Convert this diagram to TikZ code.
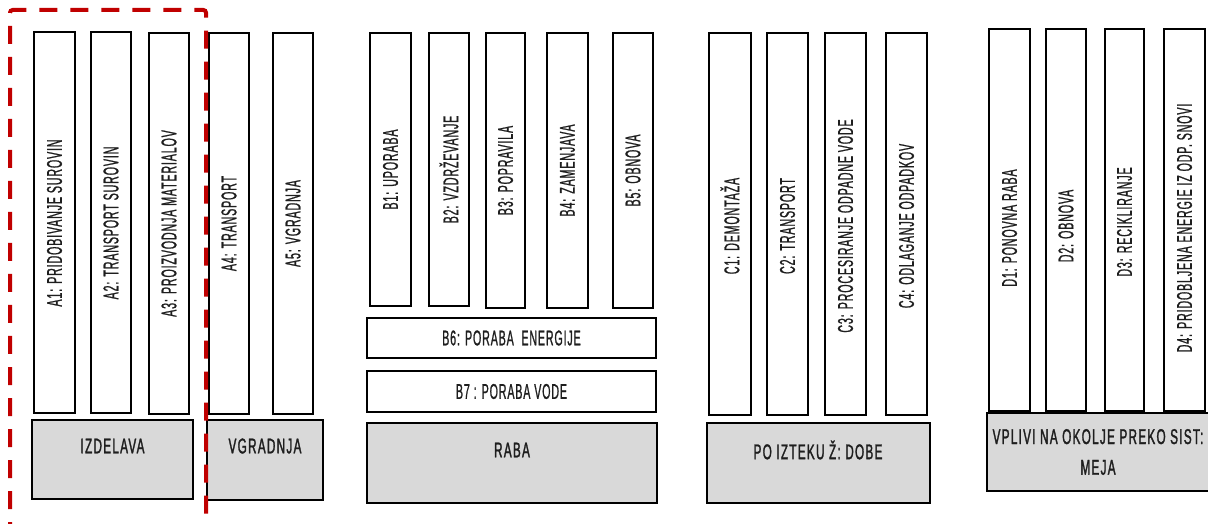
\documentclass[tikz,border=0pt]{standalone}
\usepackage{fontspec}
\setmainfont{Liberation Sans}[FakeStretch=0.55]
\newfontfamily\stagefont{Liberation Sans}[FakeStretch=0.5,FakeBold=0.9,LetterSpace=4]
\newfontfamily\groupfont{Liberation Sans}[FakeStretch=0.55,FakeBold=1.4,LetterSpace=6]
\definecolor{boundred}{HTML}{C00000}
\definecolor{groupgrey}{HTML}{D9D9D9}
\definecolor{inkgrey}{HTML}{1E1E1E}

\tikzset{every picture/.style={line width=0.75pt}}
\tikzset{
  stagebox/.style={draw=black, line width=1.4pt},
  groupbox/.style={draw=black, fill=groupgrey, line width=2.2pt},
  vlabel/.style={rotate=90, inner sep=0.75pt, text=inkgrey, font=\stagefont\fontsize{16}{17}\selectfont},
  hlabel/.style={inner sep=0.75pt, text=inkgrey, font=\stagefont\fontsize{16}{17}\selectfont},
  glabel/.style={inner sep=0.75pt, text=inkgrey, align=center, font=\groupfont\fontsize{16}{23}\selectfont},
  sysbound/.style={draw=boundred, line width=3pt, dash pattern={on 13.5pt off 9.75pt}, rounded corners=2pt}
}

\begin{document}
\begin{tikzpicture}[x=0.75pt,y=0.75pt,yscale=-1,xscale=1]
		\useasboundingbox (0,0) rectangle (1208,524);
		\clip (0,0) rectangle (1208,524);
		
		%Shape: Rectangle [A]
		\draw  [stagebox]  (34,32) rectangle (75,413) ;
		\draw  [stagebox]  (91,32) rectangle (131,413) ;
		\draw  [stagebox]  (149,33) rectangle (189,414) ;
		\draw  [stagebox]  (209,33) rectangle (249,414) ;
		\draw  [stagebox]  (273,33) rectangle (313,414) ;
		\draw  [groupbox]  (32,420) rectangle (193,499) ;
		\draw  [groupbox]  (207,420) rectangle (323,500) ;
		
		%Shape: Rectangle [B]
		\draw  [stagebox]  (370,33) rectangle (411,306) ;
		\draw  [stagebox]  (429,33) rectangle (469,306) ;
		\draw  [stagebox]  (486,33) rectangle (525,308) ;
		\draw  [stagebox]  (547,33) rectangle (588,308) ;
		\draw  [stagebox]  (613,33) rectangle (653,308) ;
		\draw  [stagebox]  (367,318) rectangle (656,358) ;
		\draw  [stagebox]  (367,371) rectangle (656,412) ;
		\draw  [groupbox]  (367,423) rectangle (657,503) ;
		
		%Shape: Rectangle [C]
		\draw  [stagebox]  (709,33) rectangle (751,415) ;
		\draw  [stagebox]  (767,33) rectangle (808,415) ;
		\draw  [stagebox]  (825,33) rectangle (866,415) ;
		\draw  [stagebox]  (886,33) rectangle (927,415) ;
		\draw  [groupbox]  (707,423) rectangle (930,503) ;
		
		%Shape: Rectangle [D]
		\draw  [stagebox]  (989,29) rectangle (1030,411) ;
		\draw  [stagebox]  (1046,29) rectangle (1086,411) ;
		\draw  [stagebox]  (1105,29) rectangle (1144,411) ;
		\draw  [stagebox]  (1164,29) rectangle (1205,411) ;
		\draw  [groupbox]  (987,413) rectangle (1216,491) ;
		
		%Straight Lines [system boundary]
		\draw  [sysbound]  (10,540) -- (10,10) -- (206,10) -- (206,540) ;
		
		% Text Node
		\node [vlabel] (a1) at (54.5,223) {A1: PRIDOBIVANJE SUROVIN};
		% Text Node
		\node [vlabel] (a2) at (111,223) {A2: TRANSPORT SUROVIN};
		% Text Node
		\node [vlabel] (a3) at (169,223.5) {A3: PROIZVODNJA MATERIALOV};
		% Text Node
		\node [vlabel] (a4) at (229,223.5) {A4: TRANSPORT};
		% Text Node
		\node [vlabel] (a5) at (293,223.5) {A5: VGRADNJA};
		% Text Node
		\node [glabel] (izdelava) at (112.5,446) {IZDELAVA};
		% Text Node
		\node [glabel] (vgradnja) at (265,446) {VGRADNJA};
		
		% Text Node
		\node [vlabel] (b1) at (390.5,169.5) {B1: UPORABA};
		% Text Node
		\node [vlabel] (b2) at (449,169.5) {B2: VZDRŽEVANJE};
		% Text Node
		\node [vlabel] (b3) at (505.5,170.5) {B3: POPRAVILA};
		% Text Node
		\node [vlabel] (b4) at (567.5,170.5) {B4: ZAMENJAVA};
		% Text Node
		\node [vlabel] (b5) at (633,170.5) {B5: OBNOVA};
		% Text Node
		\node [hlabel] (b6) at (511.5,338) {B6: PORABA\ \ ENERGIJE};
		% Text Node
		\node [hlabel] (b7) at (511.5,391.5) {B7 : PORABA VODE};
		% Text Node
		\node [glabel] (raba) at (512,450) {RABA};
		
		% Text Node
		\node [vlabel] (c1) at (730,226) {C1: DEMONTAŽA};
		% Text Node
		\node [vlabel] (c2) at (787.5,226) {C2: TRANSPORT};
		% Text Node
		\node [vlabel] (c3) at (845.5,226) {C3: PROCESIRANJE ODPADNE VODE};
		% Text Node
		\node [vlabel] (c4) at (906.5,226) {C4: ODLAGANJE ODPADKOV};
		% Text Node
		\node [glabel] (eol) at (818,450) {PO IZTEKU Ž: DOBE};
		
		% Text Node
		\node [vlabel] (d1) at (1009.5,228) {D1: PONOVNA RABA};
		% Text Node
		\node [vlabel] (d2) at (1066,226) {D2: OBNOVA};
		% Text Node
		\node [vlabel] (d3) at (1124.5,222) {D3: RECIKLIRANJE};
		% Text Node
		\node [vlabel] (d4) at (1184.5,228) {D4: PRIDOBLJENA ENERGIE IZ ODP. SNOVI};
		% Text Node
		\node [glabel] (vplivi) at (1098,452) {VPLIVI NA OKOLJE PREKO SIST:\\MEJA};
		
	\end{tikzpicture}
\end{document}
